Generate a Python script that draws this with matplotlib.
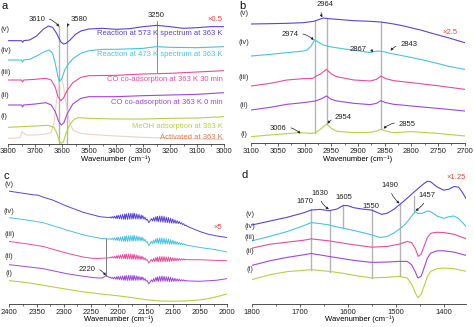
import numpy as np
import matplotlib
matplotlib.use('Agg')
import matplotlib.pyplot as plt
from matplotlib.ticker import MultipleLocator

plt.rcParams['font.family'] = ['Liberation Sans', 'DejaVu Sans']
plt.rcParams['font.size'] = 5.5

# colores de cada espectro (v) ... (i)
C_V = '#5a44d8'
C_IV = '#46c4e2'
C_III = '#e84c9c'
C_II = '#a046e0'
C_I = '#bad03e'
C_ACT = '#ecd3c4'
C_RED = '#e8413c'
C_GRIS = '#b4b4b4'

# ---------------- panel a: region OH (3800-3000) ----------------
a_v = [(3800, 3.08), (3760, 3.08), (3750, 3.08), (3746, 3.03), (3742, 3.08), (3720, 3.10),
       (3694, 3.22), (3670, 3.42), (3650, 3.52), (3635, 3.48), (3620, 3.30), (3605, 3.05),
       (3595, 2.98), (3585, 3.00), (3570, 3.10), (3550, 3.27), (3530, 3.37), (3500, 3.43),
       (3450, 3.45), (3400, 3.42), (3350, 3.44), (3300, 3.50), (3250, 3.54), (3200, 3.50),
       (3150, 3.45), (3100, 3.47), (3050, 3.50), (3000, 3.50)]
a_iv = [(3800, 2.50), (3750, 2.50), (3746, 2.44), (3742, 2.50), (3720, 2.52), (3694, 2.62),
        (3665, 2.75), (3648, 2.80), (3635, 2.70), (3625, 2.40), (3615, 2.00), (3610, 1.85),
        (3600, 1.95), (3590, 2.20), (3575, 2.40), (3558, 2.55), (3530, 2.70), (3500, 2.78),
        (3450, 2.82), (3400, 2.82), (3300, 2.85), (3250, 2.90), (3200, 2.88), (3100, 2.87),
        (3000, 2.90)]
a_iii = [(3800, 1.90), (3750, 1.90), (3746, 1.84), (3742, 1.90), (3700, 1.92), (3660, 1.95),
         (3640, 1.90), (3625, 1.68), (3615, 1.40), (3605, 1.28), (3595, 1.35), (3580, 1.60),
         (3560, 1.82), (3530, 1.98), (3500, 2.03), (3400, 2.04), (3300, 2.08), (3200, 2.10),
         (3100, 2.14), (3000, 2.18)]
a_ii = [(3800, 1.15), (3750, 1.15), (3746, 1.09), (3742, 1.15), (3700, 1.18), (3660, 1.22),
        (3640, 1.15), (3625, 0.95), (3612, 0.65), (3603, 0.55), (3593, 0.62), (3580, 0.90),
        (3560, 1.18), (3530, 1.35), (3500, 1.40), (3400, 1.40), (3300, 1.43), (3200, 1.45),
        (3100, 1.47), (3000, 1.52)]
a_i = [(3800, 0.48), (3700, 0.52), (3650, 0.54), (3630, 0.48), (3620, 0.32), (3610, 0.08),
       (3603, 0.00), (3595, 0.05), (3585, 0.30), (3570, 0.58), (3555, 0.72), (3540, 0.77),
       (3500, 0.75), (3400, 0.73), (3300, 0.73), (3200, 0.75), (3100, 0.76), (3000, 0.80)]
a_act = [(3800, 0.15), (3755, 0.17), (3748, 0.35), (3742, 0.30), (3730, 0.25), (3700, 0.25),
         (3660, 0.28), (3640, 0.32), (3630, 0.60), (3620, 1.30), (3610, 1.85), (3603, 1.95),
         (3595, 1.75), (3585, 1.20), (3575, 0.70), (3560, 0.40), (3530, 0.30), (3500, 0.27),
         (3400, 0.22), (3300, 0.18), (3200, 0.15), (3100, 0.13), (3000, 0.12)]
a_textos = ['Reaction at 573 K spectrum at 363 K', 'Reaction at 473 K spectrum at 363 K',
            'CO co-adsorption at 363 K 30 min', 'CO co-adsorption at 363 K 0 min',
            'MeOH adsorption at 363 K', 'Activated at 363 K']
a_texto_y = [3.30, 2.67, 1.93, 1.23, 0.52, 0.18]

# ---------------- panel b: region CH (3100-2700) ----------------
b_v = [(3100, 3.58), (3064, 3.59), (3033, 3.60), (3002, 3.62), (2983, 3.66), (2972, 3.72),
       (2965, 3.76), (2955, 3.74), (2939, 3.72), (2908, 3.68), (2877, 3.66), (2857, 3.64),
       (2833, 3.58), (2814, 3.52), (2783, 3.40), (2752, 3.26), (2727, 3.15), (2700, 3.02)]
b_iv = [(3100, 2.62), (3064, 2.67), (3033, 2.72), (3002, 2.77), (2995, 2.80), (2988, 2.92),
        (2981, 3.11), (2975, 3.04), (2965, 2.95), (2950, 2.89), (2925, 2.83), (2900, 2.78),
        (2877, 2.72), (2870, 2.75), (2862, 2.77), (2852, 2.75), (2840, 2.70), (2814, 2.62),
        (2783, 2.52), (2752, 2.40), (2727, 2.30), (2700, 2.22)]
b_iii = [(3100, 1.72), (3064, 1.80), (3033, 1.90), (3002, 1.94), (2985, 1.95), (2978, 2.02),
         (2970, 2.08), (2959, 2.22), (2950, 2.08), (2940, 2.00), (2908, 1.90), (2877, 1.87),
         (2865, 1.92), (2857, 2.02), (2848, 1.94), (2833, 1.88), (2800, 1.82), (2752, 1.73),
         (2700, 1.62)]
b_ii = [(3100, 1.00), (3064, 1.08), (3033, 1.17), (3002, 1.22), (2980, 1.27), (2968, 1.34),
        (2959, 1.42), (2950, 1.32), (2940, 1.27), (2908, 1.20), (2877, 1.16), (2865, 1.20),
        (2857, 1.28), (2848, 1.22), (2833, 1.17), (2800, 1.12), (2752, 1.05), (2700, 0.97)]
b_i = [(3100, 0.20), (3064, 0.25), (3033, 0.29), (3010, 0.32), (2990, 0.30), (2980, 0.31),
       (2968, 0.45), (2959, 0.58), (2950, 0.45), (2940, 0.36), (2908, 0.32), (2877, 0.33),
       (2865, 0.37), (2857, 0.42), (2848, 0.37), (2833, 0.32), (2800, 0.35), (2752, 0.30),
       (2700, 0.22)]

# ---------------- panel c: region CO (2400-2000) ----------------
c_v = [(2400, 3.42), (2368, 3.34), (2356, 3.31), (2347, 3.30), (2338, 3.24), (2320, 3.15),
       (2295, 2.97), (2264, 2.78), (2234, 2.65), (2215, 2.63), (2190, 2.65), (2172, 2.67),
       (2155, 2.63), (2148, 2.57), (2144, 2.47), (2140, 2.55), (2130, 2.58), (2120, 2.58),
       (2100, 2.52), (2087, 2.47), (2075, 2.38), (2062, 2.28), (2050, 2.20), (2035, 2.12),
       (2020, 2.07), (2000, 2.02)]
c_iv = [(2400, 2.62), (2368, 2.55), (2338, 2.47), (2295, 2.25), (2264, 2.10), (2234, 2.00),
        (2215, 1.98), (2190, 1.98), (2172, 2.00), (2155, 1.97), (2148, 1.90), (2144, 1.78),
        (2140, 1.86), (2130, 1.92), (2120, 1.92), (2100, 1.88), (2087, 1.84), (2075, 1.80),
        (2050, 1.72), (2020, 1.65), (2000, 1.58)]
c_iii = [(2400, 1.90), (2368, 1.83), (2338, 1.75), (2295, 1.55), (2264, 1.43), (2246, 1.39),
         (2234, 1.39), (2215, 1.42), (2190, 1.45), (2172, 1.44), (2155, 1.40), (2148, 1.35),
         (2144, 1.25), (2140, 1.32), (2130, 1.36), (2120, 1.37), (2100, 1.36), (2075, 1.36),
         (2050, 1.35), (2020, 1.33), (2000, 1.32)]
c_ii = [(2400, 1.20), (2368, 1.14), (2338, 1.08), (2295, 0.93), (2264, 0.85), (2240, 0.80),
        (2230, 0.80), (2226, 0.83), (2222, 0.87), (2218, 0.83), (2212, 0.80), (2190, 0.80),
        (2172, 0.80), (2155, 0.78), (2148, 0.72), (2144, 0.62), (2140, 0.70), (2130, 0.76),
        (2120, 0.78), (2100, 0.75), (2075, 0.72), (2050, 0.70), (2020, 0.73), (2000, 0.78)]
c_i = [(2400, 0.72), (2368, 0.66), (2338, 0.58), (2295, 0.46), (2264, 0.38), (2234, 0.32),
       (2200, 0.26), (2172, 0.20), (2148, 0.14), (2120, 0.10), (2087, 0.10), (2062, 0.12),
       (2040, 0.16), (2020, 0.23), (2000, 0.32)]
# lineas rotacionales del CO gas (ramas R y P) y su amplitud leida
co_lineas = [2215, 2211, 2207, 2203, 2200, 2196, 2192, 2188, 2185, 2181, 2177, 2173, 2170,
             2166, 2162, 2158, 2155, 2151, 2147,
             2139, 2135, 2131, 2128, 2124, 2120, 2116, 2112, 2108, 2104, 2100, 2096, 2092,
             2088, 2084, 2080, 2076]
co_amp = [0.01, 0.02, 0.03, 0.04, 0.05, 0.06, 0.07, 0.08, 0.08, 0.09, 0.09, 0.09, 0.08,
          0.08, 0.07, 0.06, 0.05, 0.04, 0.03,
          0.04, 0.06, 0.07, 0.08, 0.09, 0.09, 0.09, 0.08, 0.08, 0.07, 0.06, 0.05, 0.04,
          0.03, 0.02, 0.02, 0.01]
co_escala = [1.0, 0.95, 0.85, 0.85]

# ---------------- panel d: region 1800-1350 ----------------
d_v = [(1800, 2.40), (1762, 2.52), (1727, 2.63), (1692, 2.77), (1677, 2.85), (1658, 2.87),
       (1640, 2.83), (1623, 2.88), (1610, 2.99), (1600, 2.98), (1588, 2.92), (1570, 2.88),
       (1551, 2.85), (1540, 2.78), (1530, 2.72), (1519, 2.75), (1505, 2.87), (1494, 3.00),
       (1484, 3.12), (1470, 3.30), (1456, 3.48), (1442, 3.65), (1435, 3.72), (1428, 3.70),
       (1415, 3.55), (1401, 3.45), (1390, 3.48), (1380, 3.56), (1370, 3.54), (1362, 3.38),
       (1354, 3.18)]
d_iv = [(1800, 1.92), (1762, 2.06), (1727, 2.20), (1692, 2.38), (1677, 2.47), (1658, 2.44),
        (1640, 2.40), (1623, 2.34), (1610, 2.30), (1590, 2.24), (1570, 2.17), (1551, 2.10),
        (1533, 2.02), (1519, 2.05), (1505, 2.15), (1494, 2.27), (1484, 2.38), (1474, 2.55),
        (1465, 2.72), (1460, 2.80), (1455, 2.75), (1446, 2.75), (1435, 2.82), (1428, 2.80),
        (1415, 2.67), (1401, 2.60), (1390, 2.65), (1380, 2.67), (1369, 2.58), (1354, 2.35)]
d_iii = [(1800, 1.70), (1762, 1.82), (1727, 1.88), (1692, 1.94), (1677, 1.98), (1640, 1.92),
         (1610, 1.85), (1588, 1.80), (1551, 1.73), (1519, 1.75), (1494, 1.82), (1477, 1.90),
         (1468, 1.87), (1460, 1.68), (1454, 1.45), (1448, 1.52), (1442, 1.75), (1435, 2.02),
         (1428, 2.15), (1415, 2.18), (1401, 2.17), (1380, 2.12), (1354, 1.98)]
d_ii = [(1800, 1.18), (1762, 1.32), (1727, 1.42), (1692, 1.50), (1677, 1.54), (1640, 1.45),
        (1610, 1.38), (1588, 1.33), (1551, 1.27), (1519, 1.28), (1494, 1.30), (1477, 1.30),
        (1468, 1.20), (1460, 0.98), (1455, 0.80), (1448, 0.85), (1442, 1.10), (1435, 1.40),
        (1428, 1.55), (1415, 1.62), (1401, 1.62), (1380, 1.58), (1354, 1.48)]
d_i = [(1800, 0.75), (1762, 0.90), (1727, 0.99), (1692, 1.03), (1677, 1.05), (1640, 1.00),
       (1610, 0.94), (1588, 0.88), (1551, 0.80), (1519, 0.82), (1494, 0.85), (1477, 0.80),
       (1468, 0.62), (1460, 0.35), (1455, 0.20), (1448, 0.30), (1442, 0.55), (1435, 0.85),
       (1428, 1.00), (1415, 1.08), (1401, 1.10), (1380, 1.08), (1354, 1.00)]

romanos = ['(v)', '(iv)', '(iii)', '(ii)', '(i)']
colores = [C_V, C_IV, C_III, C_II, C_I]


def trazar(ax, puntos, color, lw=0.8):
    w = [p[0] for p in puntos]
    y = [p[1] for p in puntos]
    ax.plot(w, y, color=color, lw=lw, solid_joinstyle='round')


def con_rizado(puntos, escala):
    # agrega las lineas rotacionales del CO gas encima de la linea base leida
    w = np.array([p[0] for p in puntos], dtype=float)
    y = np.array([p[1] for p in puntos], dtype=float)
    orden = np.argsort(w)
    base_w, base_y = w[orden], y[orden]
    fuera = ~(((w > 2145.5) & (w < 2217)) | ((w > 2073) & (w < 2141)))
    pts = list(zip(w[fuera], y[fuera]))
    for l, a in zip(co_lineas, co_amp):
        a = a * escala
        pts.append((l, np.interp(l, base_w, base_y) + a))
        m = l + 1.9 if l > 2143 else l - 1.9
        pts.append((m, np.interp(m, base_w, base_y) - a))
    pts.sort(key=lambda p: p[0])
    return pts


def preparar(ax, xlim, ylim, mayor, menor):
    ax.set_xlim(*xlim)
    ax.set_ylim(*ylim)
    for s in ['left', 'right', 'top']:
        ax.spines[s].set_visible(False)
    ax.spines['bottom'].set_linewidth(0.6)
    ax.spines['bottom'].set_color('#333333')
    ax.set_yticks([])
    ax.xaxis.set_major_locator(MultipleLocator(mayor))
    ax.xaxis.set_minor_locator(MultipleLocator(menor))
    ax.tick_params(axis='x', which='major', length=2, width=0.5, pad=1.2,
                   labelsize=5.5, colors='#222222')
    ax.tick_params(axis='x', which='minor', length=1.3, width=0.4)
    ax.set_xlabel('Wavenumber (cm⁻¹)', fontsize=5.5, labelpad=0.2)
    ax.patch.set_alpha(0)


def flecha(ax, texto, xy, xytext, rad, color='#222222'):
    ax.annotate(texto, xy=xy, xytext=xytext, ha='center', va='center', fontsize=5.5,
                color=color, annotation_clip=False,
                arrowprops=dict(arrowstyle='-|>', color='#222222', lw=0.5,
                                mutation_scale=3.5, shrinkA=1, shrinkB=0,
                                connectionstyle='arc3,rad=%s' % rad))


def vlinea(ax, w, y0, y1, color=C_GRIS, lw=1.0):
    ax.plot([w, w], [y0, y1], color=color, lw=lw, zorder=1)


fig = plt.figure(figsize=(4.74, 3.27), dpi=100)
ax_a = fig.add_axes([0.0169, 0.5596, 0.4557, 0.3976])
ax_b = fig.add_axes([0.5302, 0.5618, 0.4500, 0.3954])
ax_c = fig.add_axes([0.0196, 0.0700, 0.4599, 0.3950])
ax_d = fig.add_axes([0.5316, 0.0700, 0.4522, 0.3950])

# ---- a ----
preparar(ax_a, (3800, 3000), (-0.02, 3.88), 100, 50)
vlinea(ax_a, 3610, 0.0, 3.52)
vlinea(ax_a, 3582, 0.0, 3.52)
vlinea(ax_a, 3250, 2.15, 3.68, color='#777777', lw=0.6)
trazar(ax_a, a_act, C_ACT)
for pts, col in zip([a_v, a_iv, a_iii, a_ii, a_i], colores):
    trazar(ax_a, pts, col)
for t, y, col in zip(a_textos, a_texto_y, colores + ['#e07a50']):
    ax_a.text(3005, y, t, ha='right', va='center', color=col, fontsize=5.5)
for r, y in zip(romanos, [3.42, 2.78, 2.12, 1.45, 0.80]):
    ax_a.text(3828, y, r, ha='left', va='center', color='#333333', clip_on=False)
flecha(ax_a, '3610', (3611, 3.50), (3694, 3.72), -0.35)
flecha(ax_a, '3580', (3581, 3.50), (3536, 3.72), 0.35)
ax_a.text(3250, 3.82, '3250', ha='center', va='center', color='#222222')
ax_a.text(3033, 3.72, '×0.5', ha='center', va='center', color=C_RED)

# ---- b ----
preparar(ax_b, (3100, 2700), (0, 3.88), 50, 25)
vlinea(ax_b, 2981, 0.30, 3.68)
vlinea(ax_b, 2959, 0.58, 3.75)
vlinea(ax_b, 2857, 0.42, 3.65)
for pts, col in zip([b_v, b_iv, b_iii, b_ii, b_i], colores):
    trazar(ax_b, pts, col)
for r, y in zip(romanos, [3.88, 3.02, 1.97, 1.12, 0.25]):
    ax_b.text(3114, y, r, ha='center', va='center', color='#333333', clip_on=False)
flecha(ax_b, '2964', (2967, 3.78), (2961, 4.15), 0.4)
flecha(ax_b, '2974', (2983, 3.10), (3027, 3.25), -0.3)
flecha(ax_b, '2867', (2871, 2.74), (2899, 2.82), -0.3)
flecha(ax_b, '2843', (2839, 2.78), (2805, 2.95), 0.3)
flecha(ax_b, '3006', (3008, 0.29), (3049, 0.45), -0.3)
flecha(ax_b, '2954', (2957, 0.59), (2927, 0.78), 0.3)
flecha(ax_b, '2855', (2852, 0.44), (2808, 0.57), 0.3)
ax_b.text(2727, 3.32, '×2.5', ha='center', va='center', color=C_RED)

# ---- c ----
preparar(ax_c, (2400, 2000), (0.01, 3.91), 50, 25)
vlinea(ax_c, 2223, 0.86, 2.00, color='#666666', lw=0.6)
for pts, col, esc in zip([c_v, c_iv, c_iii, c_ii], colores[:4], co_escala):
    trazar(ax_c, con_rizado(pts, esc), col, lw=0.7)
trazar(ax_c, c_i, C_I)
for r, y in zip(romanos, [3.62, 2.82, 2.12, 1.45, 0.92]):
    ax_c.text(2400, y, r, ha='center', va='center', color='#333333', clip_on=False)
flecha(ax_c, '2220', (2223, 0.87), (2257, 1.05), -0.4)
ax_c.text(2018, 2.33, '×5', ha='center', va='center', color=C_RED)

# ---- d ----
preparar(ax_d, (1800, 1354), (0.01, 3.91), 100, 50)
vlinea(ax_d, 1677, 1.05, 2.87)
vlinea(ax_d, 1638, 0.98, 2.83)
vlinea(ax_d, 1610, 2.30, 2.99)
vlinea(ax_d, 1551, 0.80, 2.88)
vlinea(ax_d, 1493, 0.85, 3.02)
vlinea(ax_d, 1462, 2.80, 3.27)
for pts, col in zip([d_v, d_iv, d_iii, d_ii, d_i], colores):
    trazar(ax_d, pts, col)
for r, y in zip(romanos, [2.72, 2.35, 2.02, 1.60, 1.05]):
    ax_d.text(1805, y, r, ha='center', va='center', color='#333333', clip_on=False)
ax_d.text(1689, 3.10, '1670', ha='center', va='center', color='#222222')
flecha(ax_d, '1630', (1640, 2.88), (1659, 3.35), 0.3)
ax_d.text(1609, 3.22, '1605', ha='center', va='center', color='#222222')
ax_d.text(1553, 2.95, '1550', ha='center', va='center', color='#222222')
flecha(ax_d, '1490', (1493, 3.05), (1514, 3.58), 0.2)
flecha(ax_d, '1457', (1460, 2.83), (1435, 3.28), -0.2)
ax_d.text(1376, 3.82, '×1.25', ha='center', va='center', color=C_RED)

# letras de los paneles
for letra, x, y in [('a', 2, 1), ('b', 239, 1), ('c', 3, 171), ('d', 242, 170)]:
    fig.text(x / 474, 1 - y / 327, letra, fontsize=8, va='top', ha='left', color='#111111')

fig.savefig('out.png', dpi=100)
